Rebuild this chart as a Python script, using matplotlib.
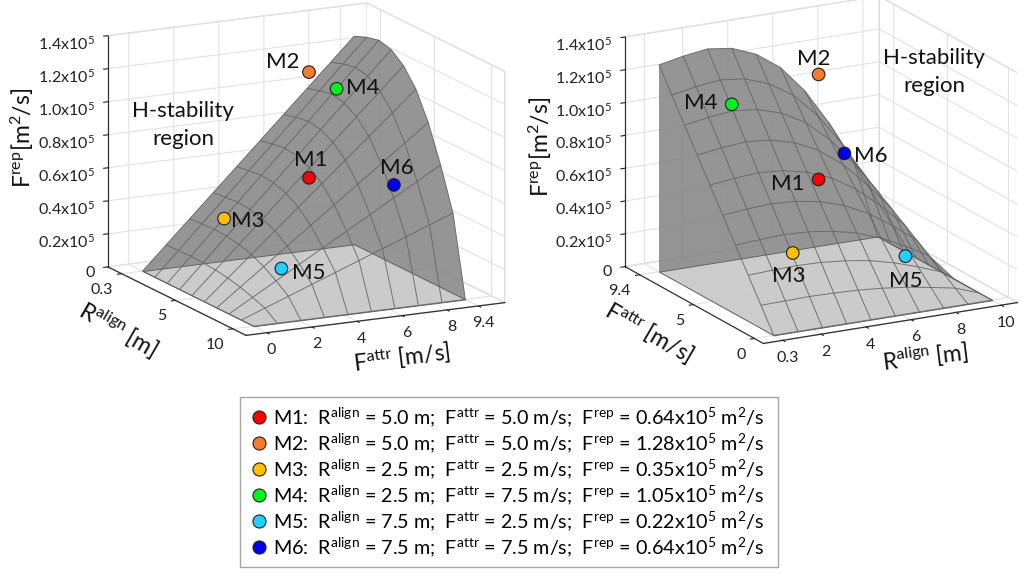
import matplotlib
matplotlib.use('Agg')
import matplotlib.pyplot as plt
from matplotlib.lines import Line2D
from matplotlib.transforms import ScaledTranslation
from mpl_toolkits.mplot3d.art3d import Poly3DCollection
import numpy as np

plt.rcParams['font.family'] = ['Lato', 'DejaVu Sans']
plt.rcParams['mathtext.fontset'] = 'custom'
plt.rcParams['mathtext.rm'] = 'Lato'
plt.rcParams['mathtext.default'] = 'regular'
plt.rcParams['grid.color'] = '#e2e2e2'
plt.rcParams['grid.linewidth'] = 0.8
plt.rcParams['axes.edgecolor'] = '#303030'

W, H = 1024, 573

# surface, z in 1e5 m^2/s
r_grid = [0.3, 1.378, 2.456, 3.533, 4.611, 5.689, 6.767, 7.844, 8.922, 10.0]
f_grid = [0.0, 1.044, 2.089, 3.133, 4.178, 5.222, 6.267, 7.311, 8.356, 9.4]
z_grid = [
    [0.00, 0.00, 0.00, 0.00, 0.00, 0.00, 0.00, 0.00, 0.00, 0.0],
    [0.14, 0.143, 0.146, 0.143, 0.137, 0.125, 0.107, 0.082, 0.054, 0.0],
    [0.28, 0.287, 0.291, 0.287, 0.273, 0.25, 0.213, 0.164, 0.108, 0.0],
    [0.42, 0.43, 0.437, 0.43, 0.41, 0.375, 0.32, 0.247, 0.162, 0.0],
    [0.56, 0.573, 0.582, 0.573, 0.547, 0.5, 0.427, 0.329, 0.216, 0.0],
    [0.70, 0.717, 0.728, 0.717, 0.683, 0.625, 0.533, 0.411, 0.27, 0.0],
    [0.84, 0.86, 0.873, 0.86, 0.82, 0.75, 0.64, 0.493, 0.324, 0.0],
    [0.98, 1.003, 1.019, 1.003, 0.957, 0.875, 0.747, 0.576, 0.378, 0.0],
    [1.12, 1.147, 1.164, 1.147, 1.093, 1.0, 0.853, 0.658, 0.432, 0.0],
    [1.26, 1.29, 1.31, 1.29, 1.23, 1.125, 0.96, 0.74, 0.486, 0.0],
]

names = ['M1', 'M2', 'M3', 'M4', 'M5', 'M6']
m_r = [5.0, 5.0, 2.5, 2.5, 7.5, 7.5]
m_f = [5.0, 5.0, 2.5, 7.5, 2.5, 7.5]
m_z = [0.64, 1.28, 0.35, 1.05, 0.22, 0.64]
m_colors = ['#ff0000', '#f47b30', '#ffc000', '#00f020', '#20d0ff', '#0000f0']

z_ticks = [0, 0.2, 0.4, 0.6, 0.8, 1.0, 1.2, 1.4]
z_labels = ['0'] + ['%.1fx10$^5$' % v for v in z_ticks[1:]]

left_label_xy = [(311, 160), (283, 62), (248, 221), (363, 88), (309, 273), (397, 168)]
right_label_xy = [(788, 184), (814, 59), (789, 276), (701, 103), (906, 281), (871, 156)]

fig = plt.figure(figsize=(W / 100, H / 100), dpi=100)


def px_text(x, y, s, **kw):
    kw.setdefault('ha', 'center')
    kw.setdefault('va', 'center')
    fig.text(x / W, 1 - y / H, s, color='#111111', **kw)


def nudge(ax, labels, dx, dy):
    # move tick labels by pixels on top of what mplot3d works out
    shift = ScaledTranslation(dx / 100, dy / 100, fig.dpi_scale_trans)
    for lbl in labels:
        lbl.set_ha('right')
        lbl.set_transform(ax.transData + shift)


def panel(cx, cy, side, elev, azim, aspect, xlim, ylim, xticks, yticks, xlabels, ylabels):
    ax = fig.add_axes([(cx - side / 2) / W, 1 - (cy + side / 2) / H, side / W, side / H],
                      projection='3d', computed_zorder=False)
    ax.patch.set_alpha(0)
    ax.set_proj_type('ortho')
    ax.view_init(elev=elev, azim=azim)
    ax.set_box_aspect(aspect)
    ax.set_xlim(*xlim, view_margin=0)
    ax.set_ylim(*ylim, view_margin=0)
    ax.set_zlim(0, 1.4, view_margin=0)
    ax.set_xticks(xticks, xlabels, fontsize=11.5)
    ax.set_yticks(yticks, ylabels, fontsize=11.5)
    ax.set_zticks(z_ticks, z_labels, fontsize=11.5)

    for axis in (ax.xaxis, ax.yaxis, ax.zaxis):
        axis.set_pane_color((1, 1, 1, 1))
        axis.pane.set_edgecolor('#dcdcdc')
        axis.line.set_color('#303030')
        axis.line.set_linewidth(0.9)
        axis._axinfo['tick'].update(inward_factor=0.2, outward_factor=0.0,
                                    linewidth={True: 0.8, False: 0.5})
        axis.set_tick_params(colors='#222222', pad=-2)

    R, F = np.meshgrid(r_grid, f_grid)
    Z = np.array(z_grid)
    # closed body: side walls behind the surface, no mesh on them
    r_wall = [(r_grid[0], f, z) for f, z in zip(f_grid, Z[:, 0])] + [(r_grid[0], f_grid[-1], 0)]
    f_wall = [(r, f_grid[-1], z) for r, z in zip(r_grid, Z[-1])] + [(r_grid[0], f_grid[-1], 0)]
    ax.add_collection3d(Poly3DCollection([r_wall, f_wall], facecolor=(0.5, 0.5, 0.5, 0.6),
                                         edgecolor='none', zorder=2))
    ax.plot_surface(R, F, Z, rstride=1, cstride=1, color='#8c8c8c', alpha=0.75,
                    linewidth=0, shade=False, zorder=2)
    corners = [(r_grid[0], f_grid[0], 0), (r_grid[-1], f_grid[0], 0),
               (r_grid[-1], f_grid[-1], 0), (r_grid[0], f_grid[-1], 0)]
    ax.add_collection3d(Poly3DCollection([corners], facecolor=(0.81, 0.81, 0.81, 0.9),
                                         edgecolor='#606060', linewidth=0.7, zorder=3))
    ax.plot_wireframe(R, F, Z, rstride=1, cstride=1, color='#626262', linewidth=0.7,
                      alpha=0.85, zorder=4)
    ax.scatter(m_r, m_f, m_z, s=82, c=m_colors, edgecolors='#202020', linewidths=0.8,
               depthshade=False, alpha=1, zorder=5)
    return ax


ax1 = panel(300, 175.5, 470.6, 14.5, -26.8, (299.6, 283.5, 233.5), (-0.9, 11.15), (-0.93, 10.57),
            [0.3, 5, 10], [0, 2, 4, 6, 8, 9.4],
            ['0.3', '5', '10'], ['0', '2', '4', '6', '8', '9.4'])
ax2 = panel(815, 176, 461.9, 17.4, -118.3, (281.6, 284.8, 234.8), (-0.56, 10.72), (-0.74, 10.6),
            [0.3, 2, 4, 6, 8, 10], [0, 5, 9.4],
            ['0.3', '2', '4', '6', '8', '10'], ['0', '5', '9.4'])
ax1.zaxis.set_ticks_position('lower')
nudge(ax1, ax1.xaxis.get_majorticklabels(), -7, 0)
nudge(ax2, ax2.yaxis.get_majorticklabels(), -10, 4)
nudge(ax1, ax1.zaxis.get_majorticklabels(), 10, 12)
nudge(ax2, ax2.zaxis.get_majorticklabels(), 5, 13)

for name, (x, y) in zip(names, left_label_xy):
    px_text(x, y, name, fontsize=16)
for name, (x, y) in zip(names, right_label_xy):
    px_text(x, y, name, fontsize=16)

px_text(183, 125, 'H-stability\nregion', fontsize=16, linespacing=1.55)
px_text(934, 72, 'H-stability\nregion', fontsize=16, linespacing=1.55)

rep_label = 'F$^{rep}$[m$^2$/s]'
align_label = 'R$^{align}$ [m]'
attr_label = 'F$^{attr}$ [m/s]'
px_text(22, 138, rep_label, fontsize=16.5, rotation=90)
px_text(118, 330, align_label, fontsize=16.5, rotation=-30)
px_text(402, 358, attr_label, fontsize=16.5, rotation=7)
px_text(540, 147, rep_label, fontsize=16.5, rotation=90)
px_text(649, 333, attr_label, fontsize=16.5, rotation=-30)
px_text(925, 357, align_label, fontsize=16.5, rotation=7)

handles = [Line2D([], [], ls='', marker='o', ms=9.4, mfc=c, mec='#202020', mew=0.8) for c in m_colors]
labels = ['%s:  R$^{align}$ = %.1f m;  F$^{attr}$ = %.1f m/s;  F$^{rep}$ = %.2fx10$^5$ m$^2$/s\u00a0\u00a0' % row
          for row in zip(names, m_r, m_f, m_z)]
fig.legend(handles, labels, loc='center', bbox_to_anchor=(509 / W, 1 - 482 / H), fontsize=14.2,
           frameon=True, fancybox=False, edgecolor='#a6a6a6', framealpha=1, labelspacing=0.13,
           handletextpad=0.1, borderpad=0.4, borderaxespad=0, handlelength=1.2)

fig.savefig('out.png', dpi=100)
